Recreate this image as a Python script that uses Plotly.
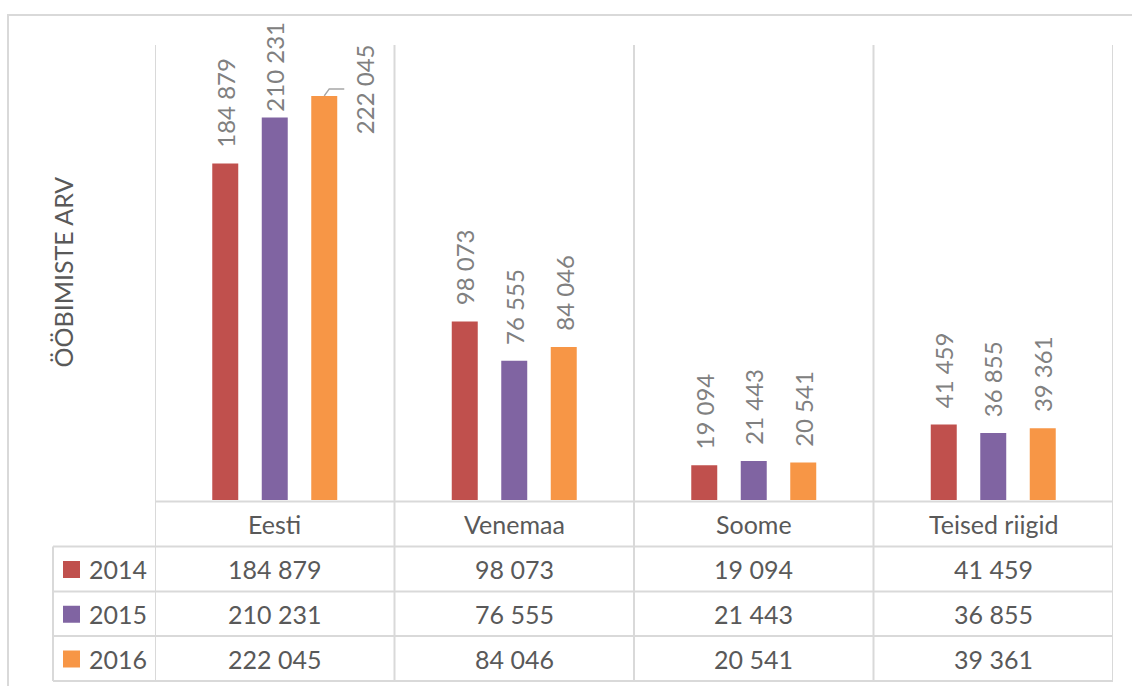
import plotly.graph_objects as go

# ---- data ----
categories = ["Eesti", "Venemaa", "Soome", "Teised riigid"]
years = ["2014", "2015", "2016"]
values_2014 = [184879, 98073, 19094, 41459]
values_2015 = [210231, 76555, 21443, 36855]
values_2016 = [222045, 84046, 20541, 39361]
y_title = "ÖÖBIMISTE ARV"

series = [values_2014, values_2015, values_2016]
colors = ["#C0504D", "#8064A2", "#F79646"]

W, H = 1132, 686
PL, PR, PT, PB = 155, 1113, 45, 500   # plot area in pixels
YMAX = 250000
GRID = "#D9D9D9"
TXT = "#595959"
LBL = "#808080"
FONT = "Lato"
FS = 25
LFS = 24

BARGAP = 0.38
BARGROUPGAP = 0.475


def fx(p):
    return p / W


def fy(p):
    return 1 - p / H


def fmt(v):
    return f"{v:,}".replace(",", " ")


fig = go.Figure()
for name, vals, col in zip(years, series, colors):
    fig.add_trace(go.Bar(x=list(range(len(categories))), y=vals, name=name,
                         marker=dict(color=col, line=dict(width=0)),
                         hoverinfo="y+name"))

shapes = []
annotations = []

# outer chart border (right/bottom outside the window)
shapes.append(dict(type="rect", xref="paper", yref="paper",
                   x0=fx(8), x1=fx(W + 20), y0=fy(H + 20), y1=fy(15),
                   line=dict(color=GRID, width=2), layer="below"))

# vertical category separators, through the table
ncat = len(categories)
for k in range(ncat + 1):
    shapes.append(dict(type="line", xref="x", yref="paper",
                       x0=k - 0.5, x1=k - 0.5, y0=fy(681), y1=fy(PT),
                       line=dict(color=GRID, width=2), layer="below"))
# table horizontal lines
row_lines = [501.5, 546.5, 591.5, 636, 681]
for i, yl in enumerate(row_lines):
    x0 = fx(PL) if i == 0 else fx(53)
    shapes.append(dict(type="line", xref="paper", yref="paper",
                       x0=x0, x1=fx(PR), y0=fy(yl), y1=fy(yl),
                       line=dict(color=GRID, width=2), layer="below"))
# legend column left border
shapes.append(dict(type="line", xref="paper", yref="paper",
                   x0=fx(53), x1=fx(53), y0=fy(row_lines[1]), y1=fy(row_lines[-1]),
                   line=dict(color=GRID, width=2), layer="below"))

# header row: category names
for i, c in enumerate(categories):
    annotations.append(dict(x=i, y=fy((row_lines[0] + row_lines[1]) / 2), xref="x", yref="paper",
                            text=c, showarrow=False, font=dict(family=FONT, size=FS, color=TXT),
                            xanchor="center", yanchor="middle"))
# data rows
for r, (name, vals, col) in enumerate(zip(years, series, colors)):
    yc = (row_lines[r + 1] + row_lines[r + 2]) / 2
    for i, v in enumerate(vals):
        annotations.append(dict(x=i, y=fy(yc), xref="x", yref="paper", text=fmt(v),
                                showarrow=False, font=dict(family=FONT, size=FS, color=TXT),
                                xanchor="center", yanchor="middle"))
    # legend key square + year
    shapes.append(dict(type="rect", xref="paper", yref="paper",
                       x0=fx(63), x1=fx(80), y0=fy(yc + 9), y1=fy(yc - 8),
                       fillcolor=col, line=dict(width=0)))
    annotations.append(dict(x=fx(87), y=fy(yc), xref="paper", yref="paper", text=name,
                            showarrow=False, font=dict(family=FONT, size=FS, color=TXT),
                            xanchor="left", yanchor="middle"))

# data labels (rotated, outside end)
slot = (1 - BARGAP) / 3
ppu = (PB - PT) / YMAX
GAP = 15
TOPLIM = 25
for k, (vals, col) in enumerate(zip(series, colors)):
    off = (k - 1) * slot
    for i, v in enumerate(vals):
        txt = fmt(v)
        L = sum(4.5 if ch == " " else 13.9 for ch in txt)
        bar_top = PB - v * ppu
        bottom = bar_top - GAP
        if bottom - L < TOPLIM:
            bottom = TOPLIM + L
        if bottom > bar_top:
            # not enough room: move label to the right with a leader line
            lead_dy = 7
            annotations.append(dict(x=i + off, y=v, xref="x", yref="y", text=txt,
                                    showarrow=False, textangle=-90, borderpad=0,
                                    font=dict(family=FONT, size=LFS, color=LBL),
                                    xanchor="center", yanchor="middle",
                                    xshift=41, yshift=lead_dy))
            shapes.append(dict(type="path", xref="x", yref="y",
                               xsizemode="pixel", ysizemode="pixel",
                               xanchor=i + off, yanchor=v,
                               path=f"M 0 0 L 5 {lead_dy} L 20 {lead_dy}",
                               line=dict(color="#A6A6A6", width=1.5)))
        else:
            annotations.append(dict(x=i + off, y=v, xref="x", yref="y", text=txt,
                                    showarrow=False, textangle=-90, borderpad=0,
                                    font=dict(family=FONT, size=LFS, color=LBL),
                                    xanchor="center", yanchor="bottom",
                                    yshift=bar_top - bottom))

# y axis title
annotations.append(dict(x=fx(62), y=fy((PT + PB) / 2), xref="paper", yref="paper",
                        text=y_title, showarrow=False, textangle=-90,
                        font=dict(family=FONT, size=25, color=TXT),
                        xanchor="center", yanchor="middle"))

fig.update_layout(
    width=W, height=H,
    margin=dict(l=0, r=0, t=0, b=0),
    paper_bgcolor="white", plot_bgcolor="white",
    barmode="group", bargap=BARGAP, bargroupgap=BARGROUPGAP,
    showlegend=False,
    xaxis=dict(domain=[fx(PL), fx(PR)], range=[-0.5, ncat - 0.5],
               showticklabels=False, showgrid=False, zeroline=False, showline=False,
               ticks=""),
    yaxis=dict(domain=[fy(PB), fy(PT)], range=[0, YMAX],
               showticklabels=False, showgrid=False, zeroline=False, showline=False,
               ticks=""),
    shapes=shapes,
    annotations=annotations,
    font=dict(family=FONT, color=TXT),
)

fig.write_html("out.html", config={"displayModeBar": False},
               post_script="document.body.style.margin='0';document.body.style.overflow='hidden';")
